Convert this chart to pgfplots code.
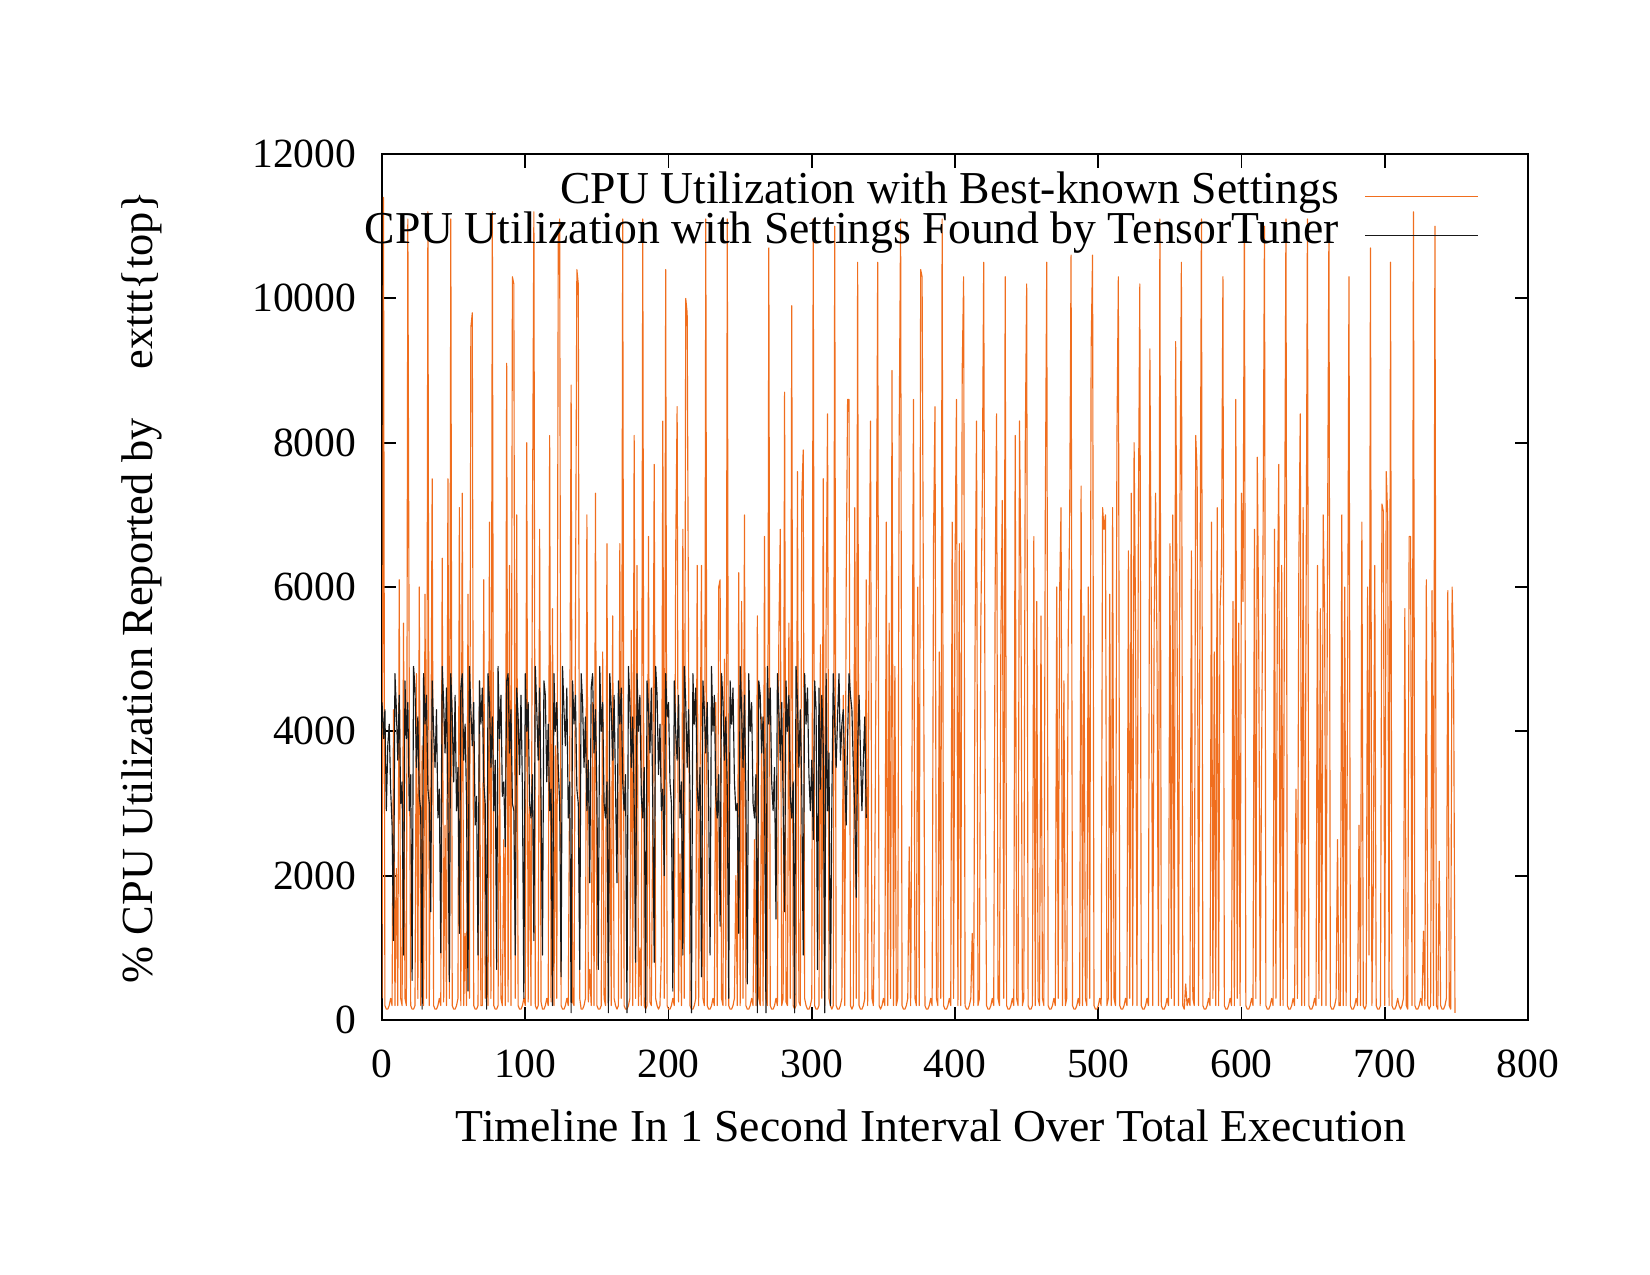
\documentclass[border=0pt]{standalone}
\usepackage{fontspec}
\setmainfont{Liberation Serif}
\usepackage{pgfplots}
\usepackage{pgfplotstable}
\pgfplotsset{compat=1.18}

\definecolor{bestorange}{RGB}{240,110,30}
\definecolor{tunerblack}{RGB}{25,25,25}

% per-second CPU utilization (%), best-known settings
\pgfplotstableread[header=false,row sep=\\]{
300\\11400\\200\\150\\150\\200\\300\\200\\4300\\200\\2100\\200\\6100\\300\\200\\5500\\300\\200\\11100\\4500\\200\\
150\\150\\200\\4800\\300\\6000\\200\\3800\\200\\5900\\300\\11200\\200\\3000\\7500\\200\\150\\150\\200\\300\\
200\\6400\\250\\2700\\200\\7500\\300\\11100\\200\\150\\150\\200\\300\\7100\\200\\7300\\200\\1200\\200\\5900\\
300\\9600\\9800\\200\\150\\150\\200\\4700\\200\\200\\6100\\300\\900\\200\\6900\\300\\11200\\200\\150\\150\\
200\\4000\\300\\200\\2500\\200\\9100\\250\\6300\\200\\10300\\10200\\300\\7000\\200\\150\\150\\200\\300\\200\\
8000\\250\\3000\\200\\6800\\11200\\200\\150\\200\\6800\\250\\150\\150\\200\\300\\200\\8100\\250\\5700\\200\\
3800\\300\\10800\\11100\\200\\150\\150\\200\\300\\200\\3500\\8800\\250\\200\\5300\\10400\\10200\\300\\150\\150\\
200\\300\\7000\\250\\700\\200\\4400\\200\\7300\\200\\150\\150\\200\\5100\\300\\200\\6600\\200\\3500\\200\\
5600\\300\\200\\150\\200\\6600\\300\\11100\\200\\150\\150\\200\\300\\5400\\200\\8100\\300\\6300\\200\\1000\\
200\\11100\\200\\150\\200\\6700\\250\\200\\2800\\7700\\300\\200\\150\\200\\900\\8300\\300\\10400\\200\\150\\
150\\200\\300\\200\\6500\\8500\\250\\2300\\200\\6800\\300\\10000\\9800\\5000\\200\\150\\150\\200\\300\\6300\\
200\\3300\\6300\\300\\200\\11100\\200\\150\\150\\200\\300\\200\\4400\\200\\6000\\6100\\300\\200\\5000\\200\\
11100\\200\\150\\150\\200\\300\\2000\\200\\6200\\200\\5800\\300\\7000\\200\\150\\150\\200\\300\\200\\2500\\
200\\5600\\300\\200\\4200\\200\\6700\\300\\200\\10700\\200\\150\\150\\200\\300\\200\\5300\\6800\\200\\300\\
8700\\250\\200\\5500\\300\\9900\\200\\150\\200\\7600\\250\\200\\7200\\7900\\300\\200\\150\\150\\200\\300\\
11100\\200\\150\\150\\200\\5200\\300\\7500\\200\\5600\\8400\\300\\200\\150\\200\\11000\\200\\150\\150\\200\\
300\\4500\\200\\6000\\8600\\8600\\200\\150\\200\\7100\\300\\10500\\200\\150\\150\\200\\300\\6100\\200\\5600\\
8300\\300\\200\\2000\\5500\\10500\\200\\150\\200\\300\\200\\6900\\200\\5500\\300\\9000\\200\\4900\\200\\300\\
8100\\11100\\200\\150\\150\\200\\300\\2400\\200\\3800\\8600\\300\\200\\6000\\200\\10400\\10300\\5400\\200\\150\\
150\\200\\300\\200\\6700\\8500\\300\\200\\5100\\300\\11100\\200\\150\\150\\200\\300\\200\\6900\\300\\6300\\
8600\\200\\6600\\200\\9000\\10300\\200\\150\\150\\200\\300\\1200\\200\\5300\\8300\\200\\300\\5500\\7200\\10500\\
3600\\200\\150\\150\\200\\300\\200\\6000\\8400\\300\\200\\5300\\7200\\300\\10300\\200\\150\\150\\200\\300\\
200\\8100\\300\\200\\8300\\6000\\200\\300\\7900\\10200\\200\\150\\150\\200\\6700\\200\\5800\\300\\200\\5600\\
300\\200\\7000\\10500\\200\\150\\150\\200\\300\\200\\6000\\300\\5900\\7100\\200\\4700\\200\\300\\5300\\6900\\
10600\\200\\150\\150\\200\\300\\200\\7400\\200\\5600\\300\\200\\6000\\300\\9300\\10600\\200\\150\\150\\200\\
300\\200\\7100\\6800\\7000\\200\\300\\5900\\200\\7100\\300\\200\\8000\\10300\\200\\150\\150\\200\\300\\200\\
6500\\300\\7300\\200\\8000\\5500\\200\\7000\\10200\\200\\150\\150\\200\\300\\200\\9300\\5700\\200\\5500\\7300\\
5100\\200\\11100\\200\\150\\150\\200\\300\\200\\6600\\300\\7000\\200\\9400\\5500\\200\\7000\\10500\\200\\150\\
500\\200\\300\\200\\6500\\300\\200\\8100\\7600\\200\\5700\\11100\\200\\150\\150\\200\\300\\200\\6900\\300\\
5100\\200\\7100\\200\\5700\\6300\\10300\\200\\150\\150\\200\\300\\200\\5800\\200\\8600\\300\\5500\\200\\7300\\
5800\\11100\\200\\150\\150\\200\\300\\200\\6800\\300\\7800\\5300\\200\\3600\\6600\\11000\\200\\150\\150\\200\\
300\\200\\6800\\300\\5600\\7700\\200\\6300\\200\\6100\\11100\\200\\150\\150\\200\\300\\200\\3200\\300\\6300\\
8400\\200\\7100\\200\\5500\\11100\\200\\150\\150\\200\\300\\200\\6300\\300\\5700\\200\\7000\\5600\\200\\6400\\
11000\\200\\150\\150\\200\\300\\2500\\200\\200\\7000\\200\\6000\\200\\4500\\10300\\200\\150\\150\\200\\300\\
200\\2700\\200\\6900\\200\\150\\200\\6000\\900\\10700\\200\\1900\\6300\\200\\150\\150\\200\\7150\\7050\\200\\
7600\\7000\\200\\10500\\200\\150\\150\\200\\300\\200\\150\\200\\300\\5700\\200\\150\\6700\\6700\\200\\11200\\
200\\150\\150\\200\\300\\200\\1230\\200\\6100\\200\\150\\200\\5950\\200\\11000\\200\\150\\2200\\200\\150\\
150\\200\\300\\5950\\200\\150\\6000\\5000\\100\\
}\bestknown

% per-second CPU utilization (%), TensorTuner settings
\pgfplotstableread[header=false,row sep=\\]{
4400\\3900\\4300\\2900\\3800\\4100\\3200\\2700\\
1100\\4800\\4300\\3600\\4500\\3000\\3300\\
900\\4700\\3900\\4400\\2900\\3400\\
550\\4900\\4600\\3500\\4200\\3100\\2900\\
150\\4800\\4100\\4500\\3200\\3000\\
1500\\4700\\4000\\3500\\4300\\2800\\3200\\
930\\4900\\4400\\3700\\4600\\3000\\
530\\4800\\4200\\3300\\4500\\2900\\3500\\
1200\\4600\\4800\\3600\\4100\\3000\\
400\\4900\\4300\\3800\\4400\\2700\\3100\\
900\\4700\\4100\\4600\\3300\\3000\\
150\\4800\\4400\\3500\\4200\\2900\\3600\\
700\\4900\\3900\\4500\\3100\\3300\\
2400\\4700\\4800\\3700\\4300\\3000\\2900\\
900\\4600\\4200\\3400\\4500\\3200\\
300\\4800\\4000\\4400\\3000\\2800\\3400\\
1100\\4900\\4300\\3600\\4600\\3100\\
900\\4700\\4500\\3300\\4100\\2900\\3200\\
200\\4800\\4000\\4400\\3500\\3000\\
600\\4900\\4300\\3800\\4600\\2800\\3300\\
100\\4700\\4100\\4500\\3200\\3000\\
700\\4800\\4400\\3500\\4200\\2900\\3600\\
1900\\4600\\4800\\3700\\4300\\3100\\
700\\4900\\4000\\4400\\3000\\2800\\3300\\
100\\4800\\4300\\3600\\4500\\3200\\
1900\\4700\\4100\\4600\\3300\\2900\\3400\\
100\\4900\\4400\\3500\\4200\\3000\\
800\\4800\\4000\\4500\\3100\\2800\\3500\\
100\\4700\\4300\\3700\\4600\\3000\\
800\\4900\\4500\\3400\\4100\\2900\\3200\\
2000\\4800\\4200\\4400\\3300\\3000\\
400\\4700\\4000\\3600\\4500\\2800\\3300\\
900\\4900\\4400\\3500\\4300\\3100\\
100\\4800\\4100\\4600\\3200\\2900\\3500\\
600\\4700\\4300\\3700\\4400\\3000\\
900\\4900\\4000\\4500\\3100\\2800\\3400\\
1300\\4800\\4400\\3600\\4200\\3200\\
300\\4700\\4100\\4600\\3300\\2900\\3000\\
1200\\4900\\4300\\3500\\4500\\3100\\
500\\4800\\4000\\4400\\3000\\2800\\3400\\
100\\4700\\4500\\3700\\4200\\3200\\
100\\4900\\4100\\4600\\3300\\2900\\3500\\
1400\\4800\\4300\\3600\\4400\\3000\\
1500\\4700\\4000\\4500\\3100\\2800\\3300\\
100\\4900\\4400\\3500\\4300\\3200\\
900\\4800\\4100\\4600\\3400\\2900\\3600\\
2500\\4700\\4300\\700\\4600\\3200\\4500\\3800\\
100\\4800\\2900\\3700\\200\\3000\\4800\\4100\\
3500\\4200\\4800\\3600\\4100\\4300\\3400\\2700\\3900\\4800\\4500\\
4300\\3500\\2900\\1700\\3800\\4500\\3700\\2900\\3600\\4200\\2800\\
}\tensortuner

\begin{document}
\fontsize{22}{26}\selectfont
\begin{tikzpicture}
\useasboundingbox (-2.547in,-1.7in) rectangle (8.453in,6.8in);
\begin{axis}[
  scale only axis,
  width=7.64in, height=5.773in,
  xmin=0, xmax=800, ymin=0, ymax=12000,
  xtick={0,100,...,800},
  ytick={0,2000,...,12000},
  scaled y ticks=false,
  scaled x ticks=false,
  minor tick num=0,
  tick align=inside,
  major tick length=0.09in,
  axis line style={line width=0.9pt},
  every tick/.style={black, line width=0.9pt},
  /pgf/number format/assume math mode=true,
  /pgf/number format/set thousands separator={},
  tick label style={font=\fontsize{20}{24}\selectfont},
  xticklabel style={yshift=-7pt},
  yticklabel style={xshift=-5pt},
  xlabel={Timeline In 1 Second Interval Over Total Execution},
  xlabel style={at={(axis description cs:0.479,-0.1224)}, anchor=center},
  ylabel={\% CPU Utilization Reported by\hspace{1.1em}exttt\{top\}},
  ylabel style={at={(axis description cs:-0.2094,0.5)}, anchor=center,
    font=\fontsize{21.4}{26}\selectfont},
  legend style={draw=none, fill=none, at={(axis description cs:1,1)},
    anchor=north east, xshift=-0.327in, yshift=-0.145in, inner sep=0pt,
    row sep=0pt,
    nodes={inner sep=0pt, text height=0.6em, text depth=0.27em},
    /tikz/every odd column/.append style={column sep=0.17in}},
  legend cell align=right,
  legend plot pos=right,
  legend image code/.code={\draw[#1] (0in,0in) -- (0.753in,0in);},
]
\addplot[color=bestorange, line width=0.55pt, mark=none, line join=round]
  table[x expr=\coordindex, y index=0] {\bestknown};
\addlegendentry{CPU Utilization with Best-known Settings}
\addplot[color=tunerblack, line width=0.55pt, mark=none, line join=round]
  table[x expr=\coordindex, y index=0] {\tensortuner};
\addlegendentry{CPU Utilization with Settings Found by TensorTuner}
\end{axis}
\end{tikzpicture}
\end{document}
